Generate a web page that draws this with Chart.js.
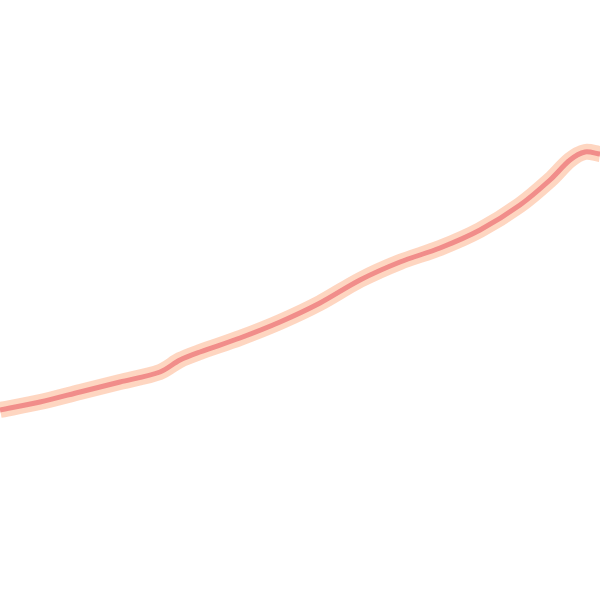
<!DOCTYPE html>
<html><head><meta charset="utf-8">
<script src="https://cdn.jsdelivr.net/npm/chart.js@4"></script>
<style>html,body{margin:0;padding:0;background:#fff}#c{display:block}</style>
</head><body>
<canvas id="c" width="600" height="600"></canvas>
<script>
const xs = [0, 40, 80, 120, 160, 180, 200, 240, 280, 320, 360, 400, 440, 480, 520, 550, 570, 585, 600];
const ys = [190, 198, 208, 218, 228, 240, 248, 262, 278, 297, 320, 338, 352, 370, 395, 420, 440, 448, 446];
const pts = xs.map((x, i) => ({x, y: ys[i]}));
new Chart(document.getElementById('c'), {
  type: 'line',
  data: { datasets: [
    { data: pts, borderColor: 'rgba(238,128,128,0.85)', borderWidth: 5, pointRadius: 0, tension: 0.3, order: 0 },
    { data: pts, borderColor: 'rgba(254,212,190,0.95)', borderWidth: 16, pointRadius: 0, tension: 0.3, order: 1 }
  ]},
  options: {
    responsive: false, animation: false,
    layout: { padding: 0 },
    plugins: { legend: { display: false }, tooltip: { enabled: false } },
    scales: {
      x: { type: 'linear', min: 0, max: 600, display: false },
      y: { min: 0, max: 600, display: false }
    }
  }
});
</script>
</body></html>
